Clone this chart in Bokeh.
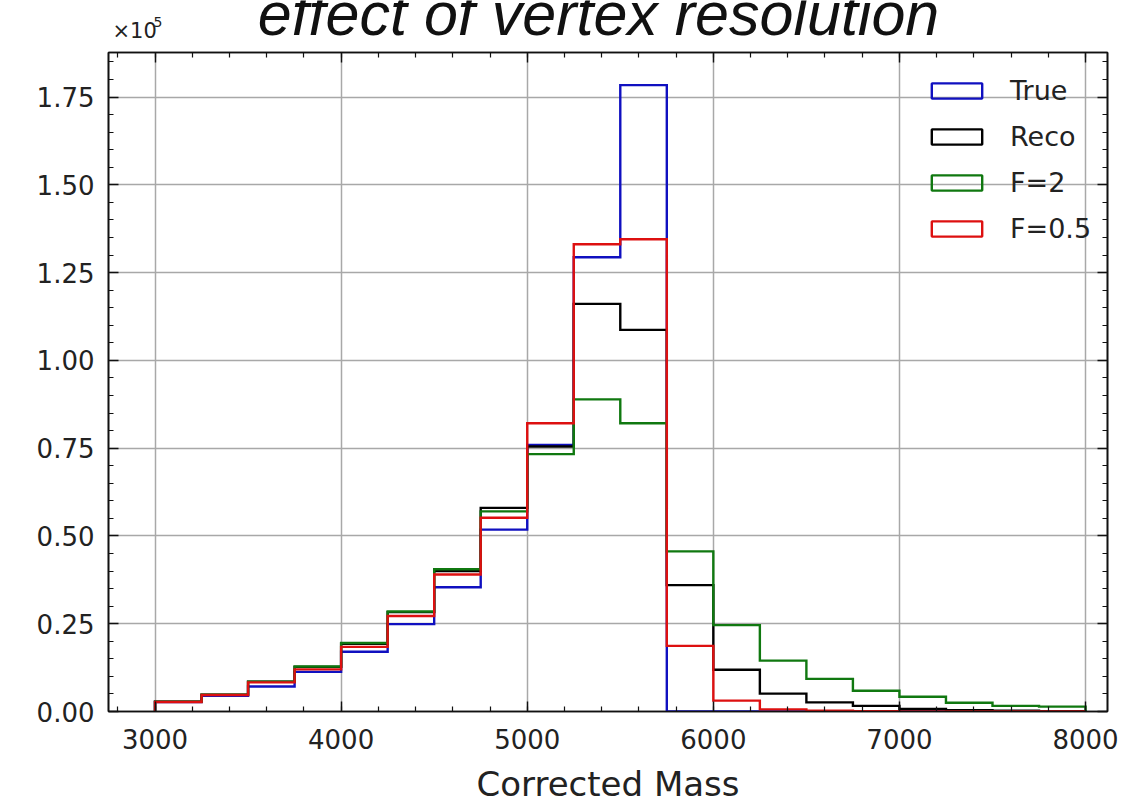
from bokeh.plotting import figure
from bokeh.layouts import column
from bokeh.models import (Legend, LegendItem, LinearAxis, SingleIntervalTicker,
                          CustomJSTickFormatter, Range1d)
from bokeh.core.properties import value
from bokeh.embed import file_html
from bokeh.resources import INLINE

# Histogram bin edges (corrected mass)
bin_edges = [3000, 3250, 3500, 3750, 4000, 4250, 4500, 4750, 5000, 5250, 5500,
             5750, 6000, 6250, 6500, 6750, 7000, 7250, 7500, 7750, 8000]

# Entries per bin for each sample
true_counts = [2700, 4500, 7100, 11300, 17000, 24900, 35400, 51800, 75900, 129400,
               178400, 0, 0, 0, 0, 0, 0, 0, 0, 0]
reco_counts = [2800, 4800, 8500, 12700, 19300, 28300, 40000, 58000, 75500, 116100,
               108700, 36000, 11900, 5100, 2600, 1600, 700, 400, 200, 100]
f2_counts = [2800, 4800, 8500, 12800, 19500, 28500, 40500, 57000, 73300, 88900,
             82100, 45600, 24600, 14500, 9300, 5900, 4200, 2500, 1600, 1400]
f05_counts = [2700, 4700, 8300, 12000, 18400, 27200, 39000, 55200, 82100, 133100,
              134500, 18700, 3100, 600, 200, 100, 0, 0, 0, 0]

series_labels = ["True", "Reco", "F=2", "F=0.5"]
series_colors = ["#1010c0", "#000000", "#107810", "#dd1010"]
series_counts = [true_counts, reco_counts, f2_counts, f05_counts]

title_text = "effect of vertex resolution"
scale_text = "×10"
scale_exp = "5"

TICK_FONT = "DejaVu Sans"
TEXT_COLOR = "#222222"
W = 1132
HEAD_H = 42
BORDER_L = 108
BORDER_R = 25

# ---- header strip: title and the y-axis scale factor ----
# its frame lines up with the main panel's frame, so x/y are page pixels
# (y counted upward from the bottom of the strip; texts are vertically centred)
head = figure(width=W, height=HEAD_H, output_backend="svg", toolbar_location=None,
              x_range=Range1d(BORDER_L, W - BORDER_R), y_range=Range1d(0, HEAD_H),
              x_axis_type=None, y_axis_type=None,
              min_border_left=BORDER_L, min_border_right=BORDER_R,
              min_border_top=0, min_border_bottom=0)
head.outline_line_color = None
head.background_fill_color = "white"
head.border_fill_color = "white"
head.xgrid.visible = False
head.ygrid.visible = False
head.text(x=[598], y=[29], text=[title_text], text_align="center",
          text_baseline="middle", text_font=value("Liberation Sans"),
          text_font_style="italic", text_font_size="61px", text_color="#111111")
head.text(x=[112], y=[11.5], text=[scale_text], text_align="left",
          text_baseline="middle", text_font=value(TICK_FONT),
          text_font_size="21px", text_color=TEXT_COLOR)
head.text(x=[153], y=[21], text=[scale_exp], text_align="left",
          text_baseline="middle", text_font=value(TICK_FONT),
          text_font_size="14px", text_color=TEXT_COLOR)

# ---- main histogram panel ----
p = figure(width=W, height=806 - HEAD_H, output_backend="svg", toolbar_location=None,
           x_range=Range1d(2750, 8118), y_range=Range1d(0, 187700),
           min_border_left=BORDER_L, min_border_right=BORDER_R, min_border_top=10,
           min_border_bottom=93)
p.background_fill_color = "white"
p.border_fill_color = "white"
p.outline_line_color = "#111111"
p.outline_line_width = 1.6

x_ticker = SingleIntervalTicker(interval=1000, num_minor_ticks=5)
y_ticker = SingleIntervalTicker(interval=25000, num_minor_ticks=5)

p.xaxis.ticker = x_ticker
p.yaxis.ticker = y_ticker
p.yaxis.formatter = CustomJSTickFormatter(code="return (tick / 1e5).toFixed(2);")


def style_ticks(ax):
    ax.major_tick_in = 10
    ax.major_tick_out = 0
    ax.minor_tick_in = 5
    ax.minor_tick_out = 0
    ax.major_tick_line_width = 1.4
    ax.minor_tick_line_width = 1.2
    ax.major_tick_line_color = "#111111"
    ax.minor_tick_line_color = "#111111"
    ax.axis_line_color = "#111111"
    ax.axis_line_width = 1.6


for ax in (p.xaxis[0], p.yaxis[0]):
    style_ticks(ax)
    ax.major_label_text_font = TICK_FONT
    ax.major_label_text_font_size = "26px"
    ax.major_label_text_color = TEXT_COLOR

p.xaxis.major_label_standoff = 17
p.yaxis.major_label_standoff = 14
p.xaxis.axis_label = "Corrected Mass"
p.xaxis.axis_label_text_font = TICK_FONT
p.xaxis.axis_label_text_font_size = "34px"
p.xaxis.axis_label_text_font_style = "normal"
p.xaxis.axis_label_text_color = TEXT_COLOR
p.xaxis.axis_label_standoff = 12

# Mirror ticks on the top and right edges (no labels there)
for side, ticker in (("above", x_ticker), ("right", y_ticker)):
    ax = LinearAxis(ticker=ticker,
                    formatter=CustomJSTickFormatter(code="return '';"))
    style_ticks(ax)
    ax.major_label_standoff = 0
    p.add_layout(ax, side)

p.xgrid.grid_line_color = "#a8a8a8"
p.ygrid.grid_line_color = "#a8a8a8"
p.xgrid.grid_line_width = 1.5
p.ygrid.grid_line_width = 1.5


def step_outline(edges, counts):
    xs = [edges[0]]
    ys = [0]
    for i, c in enumerate(counts):
        xs += [edges[i], edges[i + 1]]
        ys += [c, c]
    xs.append(edges[-1])
    ys.append(0)
    return xs, ys


items = []
for label, color, counts in zip(series_labels, series_colors, series_counts):
    xs, ys = step_outline(bin_edges, counts)
    p.line(x=xs, y=ys, line_color=color, line_width=2.4, line_join="miter")
    # zero-size outline box off the visible range; serves as the legend swatch
    swatch = p.quad(left=[0], right=[0], top=[0], bottom=[0], fill_alpha=0,
                    line_color=color, line_width=2.4)
    items.append(LegendItem(label=label, renderers=[swatch]))

legend = Legend(items=items, location=(817, 467))
legend.glyph_width = 63
legend.glyph_height = 19
legend.label_standoff = 22
legend.label_text_font = TICK_FONT
legend.label_text_font_size = "27px"
legend.label_text_color = TEXT_COLOR
legend.spacing = 15
legend.padding = 0
legend.margin = 0
legend.border_line_color = None
legend.background_fill_alpha = 0
p.add_layout(legend, "center")

layout = column(head, p, spacing=0)
open("out.html", "w").write(file_html(layout, INLINE))
